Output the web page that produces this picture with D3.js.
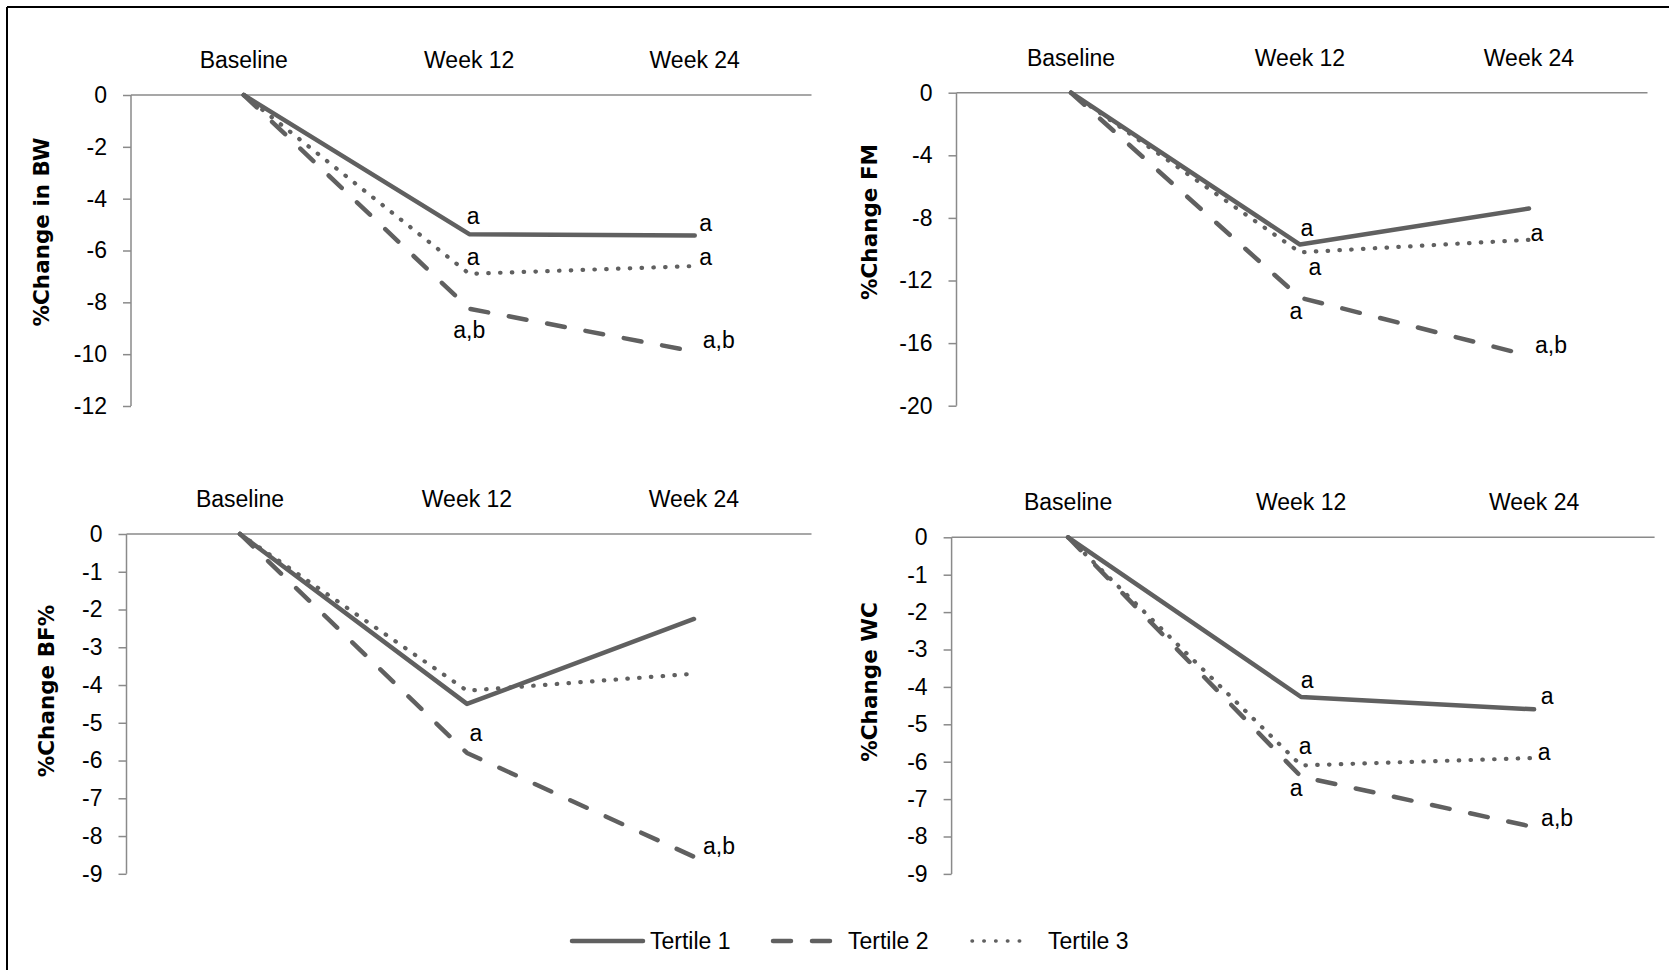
<!DOCTYPE html>
<html>
<head>
<meta charset="utf-8">
<script src="https://cdn.jsdelivr.net/npm/d3@7"></script>
<style>
body { margin: 0; background: #fff; }
text { font-family: "Liberation Sans Narrow", "Arial Narrow", "Liberation Sans", sans-serif; fill: #000; }
.ytitle { font-family: "DejaVu Sans", Verdana, sans-serif; font-weight: bold; }
</style>
</head>
<body>
<svg id="chart" width="1669" height="970"></svg>
<script>
'use strict';

// ---- data ----
var categories = ['Baseline', 'Week 12', 'Week 24']
var seriesNames = ['Tertile 1', 'Tertile 2', 'Tertile 3']

// % change in body weight, one row per tertile
var bwValues = [[0, -5.37, -5.42], [0, -8.25, -9.9], [0, -6.9, -6.6]]
var bwTicks = [0, -2, -4, -6, -8, -10, -12]
var bwLabels = [['', 'a', 'a'], ['', 'a,b', 'a,b'], ['', 'a', 'a']]

// % change in fat mass
var fmValues = [[0, -9.7, -7.4], [0, -13.1, -16.8], [0, -10.2, -9.4]]
var fmTicks = [0, -4, -8, -12, -16, -20]
var fmLabels = [['', 'a', ''], ['', 'a', 'a,b'], ['', 'a', 'a']]

// % change in body fat %
var bfValues = [[0, -4.5, -2.25], [0, -5.8, -8.55], [0, -4.15, -3.7]]
var bfTicks = [0, -1, -2, -3, -4, -5, -6, -7, -8, -9]
var bfLabels = [['', '', ''], ['', 'a', 'a,b'], ['', '', '']]

// % change in waist circumference
var wcValues = [[0, -4.27, -4.6], [0, -6.4, -7.75], [0, -6.1, -5.9]]
var wcTicks = [0, -1, -2, -3, -4, -5, -6, -7, -8, -9]
var wcLabels = [['', 'a', 'a'], ['', 'a', 'a,b'], ['', 'a', 'a']]

// ---- layout (pixels) ----
var layout = [
    { title: '%Change in BW', values: bwValues, ticks: bwTicks, labels: bwLabels,
      x0: 131, step: 225.5, yTop: 95, yBottom: 406, titleX: 41, titleY: 232,
      offsets: [[null, [4, -18], [11, -12]], [null, [0, 21], [24, -12]], [null, [4, -17], [11, -9]]] },
    { title: '%Change FM', values: fmValues, ticks: fmTicks, labels: fmLabels,
      x0: 956.5, step: 229, yTop: 92.7, yBottom: 405.7, titleX: 869, titleY: 222,
      offsets: [[null, [7, -17], null], [null, [-4, 13], [22, -11]], [null, [15, 15], [8, -7]]] },
    { title: '%Change BF%', values: bfValues, ticks: bfTicks, labels: bfLabels,
      x0: 126.5, step: 227, yTop: 534, yBottom: 873.8, titleX: 46, titleY: 691,
      offsets: [[null, null, null], [null, [9, -20], [25, -11]], [null, null, null]] },
    { title: '%Change WC', values: wcValues, ticks: wcTicks, labels: wcLabels,
      x0: 951.6, step: 233, yTop: 537.3, yBottom: 873.9, titleX: 869, titleY: 682,
      offsets: [[null, [6, -17], [13, -13]], [null, [-5, 11], [23, -9]], [null, [4, -19], [10, -6]]] }
]

var lineColor = '#606060'
var axisColor = '#8a8a8a'
var dashStyles = [null, '18 21', '0.5 11.3']
var fontSize = 23

var svg = d3.select('#chart')

// outer frame (only top and left edges fall inside the picture)
svg.append('line').attr('x1', 7).attr('y1', 7).attr('x2', 1669).attr('y2', 7)
    .attr('stroke', '#000').attr('stroke-width', 2)
svg.append('line').attr('x1', 7).attr('y1', 7).attr('x2', 7).attr('y2', 970)
    .attr('stroke', '#000').attr('stroke-width', 2)

function drawPanel(p) {
    var width = p.step * categories.length
    var x = d3.scalePoint().domain(categories).range([p.x0, p.x0 + width]).padding(0.5)
    var y = d3.scaleLinear().domain([d3.min(p.ticks), 0]).range([p.yBottom, p.yTop])

    var g = svg.append('g')

    // y axis, plain hyphen minus like the original
    var yAxis = d3.axisLeft(y).tickValues(p.ticks).tickSize(8).tickPadding(16)
        .tickFormat(function(d) { return String(d) })
    var ya = g.append('g').attr('transform', 'translate(' + p.x0 + ',0)').call(yAxis)
    ya.select('.domain').attr('stroke', axisColor).attr('stroke-width', 1.5)
        .attr('d', 'M0,' + y(0) + 'V' + p.yBottom)
    ya.selectAll('.tick line').attr('stroke', axisColor).attr('stroke-width', 1.5)
    ya.selectAll('.tick text').attr('font-size', fontSize).attr('fill', '#000')
        .style('font-family', '"Liberation Sans Narrow", "Arial Narrow", "Liberation Sans", sans-serif')

    // category axis along zero, labels above
    g.append('line').attr('x1', p.x0).attr('x2', p.x0 + width + 4)
        .attr('y1', y(0)).attr('y2', y(0))
        .attr('stroke', axisColor).attr('stroke-width', 1.5)
    g.selectAll('.cat').data(categories).enter().append('text')
        .attr('class', 'cat')
        .attr('x', function(d) { return x(d) })
        .attr('y', y(0) - 35)
        .attr('text-anchor', 'middle')
        .attr('dominant-baseline', 'central')
        .attr('font-size', fontSize)
        .text(function(d) { return d })

    // y title
    g.append('text').attr('class', 'ytitle')
        .attr('transform', 'translate(' + p.titleX + ',' + p.titleY + ') rotate(-90)')
        .attr('text-anchor', 'middle')
        .attr('dominant-baseline', 'central')
        .attr('font-size', 21.5)
        .text(p.title)

    var line = d3.line()
        .x(function(d, i) { return x(categories[i]) })
        .y(function(d) { return y(d) })

    p.values.forEach(function(vals, s) {
        g.append('path')
            .attr('d', line(vals))
            .attr('fill', 'none')
            .attr('stroke', lineColor)
            .attr('stroke-width', s === 2 ? 4.2 : 4.5)
            .attr('stroke-linecap', 'round')
            .attr('stroke-linejoin', 'round')
            .attr('stroke-dasharray', dashStyles[s])
    })

    // significance letters
    p.labels.forEach(function(row, s) {
        row.forEach(function(txt, i) {
            if (!txt) return
            var off = p.offsets[s][i]
            g.append('text')
                .attr('x', x(categories[i]) + off[0])
                .attr('y', y(p.values[s][i]) + off[1])
                .attr('text-anchor', 'middle')
                .attr('dominant-baseline', 'central')
                .attr('font-size', fontSize)
                .text(txt)
        })
    })
}

layout.forEach(drawPanel)

// legend
var legendItems = [
    { x1: 572, x2: 643, tx: 650 },
    { x1: 773, x2: 833, tx: 848 },
    { x1: 972, x2: 1031, tx: 1048 }
]
var legendY = 941
var legend = svg.append('g')
legend.selectAll('line').data(seriesNames).enter().append('line')
    .attr('x1', function(d, i) { return legendItems[i].x1 })
    .attr('x2', function(d, i) { return legendItems[i].x2 })
    .attr('y1', legendY).attr('y2', legendY)
    .attr('stroke', lineColor)
    .attr('stroke-width', function(d, i) { return i === 2 ? 3.5 : 4.5 })
    .attr('stroke-linecap', 'round')
    .attr('stroke-dasharray', function(d, i) { return dashStyles[i] })
legend.selectAll('text').data(seriesNames).enter().append('text')
    .attr('x', function(d, i) { return legendItems[i].tx })
    .attr('y', legendY)
    .attr('dominant-baseline', 'central')
    .attr('font-size', fontSize)
    .text(function(d) { return d })
</script>
</body>
</html>
